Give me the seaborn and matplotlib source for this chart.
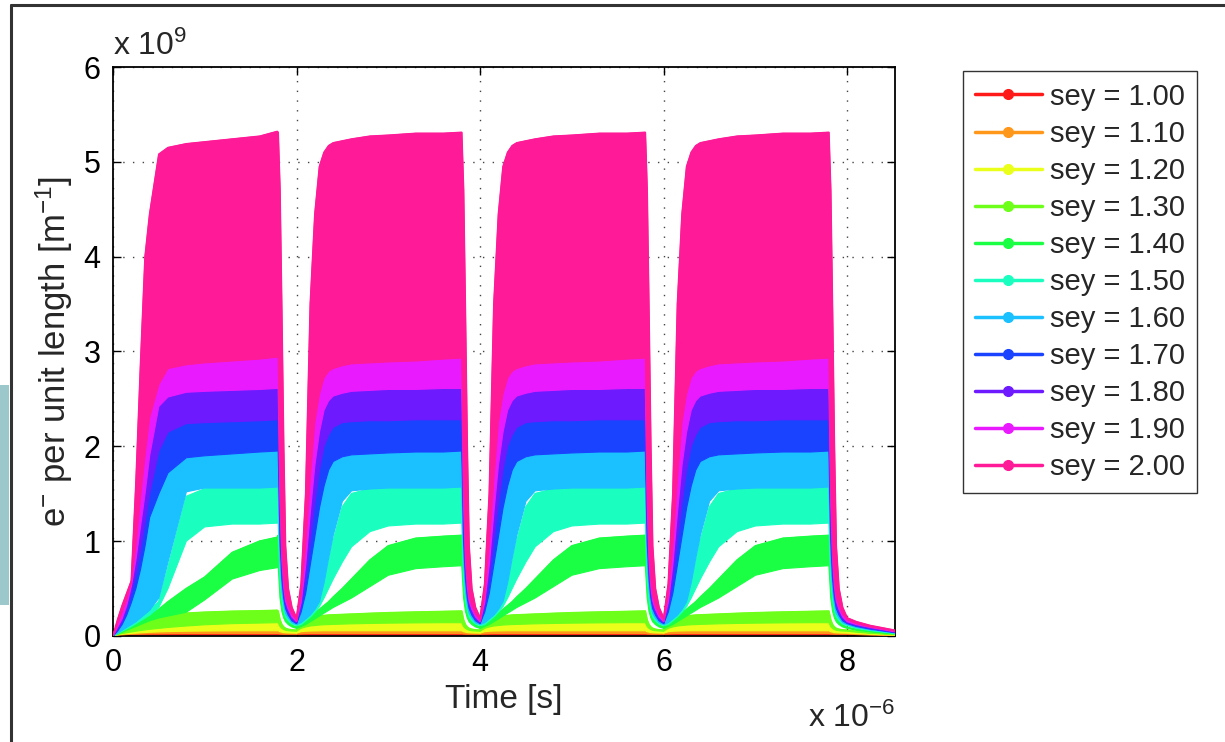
import matplotlib
matplotlib.use("Agg")
import matplotlib.pyplot as plt
import seaborn as sns
from matplotlib.lines import Line2D
from matplotlib.patches import Rectangle

# secondary emission yield of each run (legend order)
SEY = [1.00, 1.10, 1.20, 1.30, 1.40, 1.50, 1.60, 1.70, 1.80, 1.90, 2.00]

# bunch trains [x 1e-6 s]: start of each train, length of a train
TRAIN_START = [0.0, 2.0, 4.0, 6.0]
TRAIN_LEN = 1.8

# time inside a train, relative to its start [x 1e-6 s]
RISE_T = [0.0, 0.05, 0.10, 0.15, 0.20, 0.25, 0.30, 0.35, 0.40, 0.50, 0.60, 0.80, 1.00, 1.30, 1.60, 1.79]
# time after the end of a train [x 1e-6 s]; the gaps use the first GAP_N points
DECAY_T = [0.0, 0.02, 0.04, 0.06, 0.08, 0.11, 0.15, 0.20, 0.30, 0.45, 0.72]
GAP_N = 8

# envelopes of the bunch-by-bunch oscillation [x 1e9 m^-1], one row per sey
# first train (starts from an empty chamber)
UPPER_FIRST = [
    [0.0, 0.012, 0.018, 0.021, 0.023, 0.024, 0.025, 0.026, 0.027, 0.028, 0.028, 0.029, 0.030, 0.030, 0.030, 0.030],
    [0.0, 0.020, 0.030, 0.036, 0.040, 0.043, 0.046, 0.048, 0.050, 0.052, 0.053, 0.054, 0.055, 0.056, 0.056, 0.056],
    [0.0, 0.025, 0.040, 0.052, 0.062, 0.070, 0.078, 0.085, 0.092, 0.100, 0.108, 0.120, 0.128, 0.134, 0.138, 0.140],
    [0.0, 0.020, 0.040, 0.060, 0.080, 0.100, 0.120, 0.140, 0.160, 0.190, 0.210, 0.240, 0.250, 0.260, 0.265, 0.270],
    [0.0, 0.025, 0.050, 0.075, 0.100, 0.130, 0.160, 0.190, 0.220, 0.280, 0.360, 0.500, 0.620, 0.880, 1.000, 1.040],
    [0.0, 0.030, 0.060, 0.090, 0.120, 0.150, 0.190, 0.230, 0.270, 0.360, 0.720, 1.470, 1.550, 1.570, 1.580, 1.580],
    [0.0, 0.050, 0.120, 0.220, 0.350, 0.500, 0.700, 0.950, 1.250, 1.500, 1.720, 1.880, 1.900, 1.920, 1.940, 1.950],
    [0.0, 0.070, 0.150, 0.280, 0.450, 0.650, 0.900, 1.200, 1.500, 1.950, 2.150, 2.240, 2.250, 2.260, 2.270, 2.280],
    [0.0, 0.090, 0.180, 0.320, 0.520, 0.800, 1.150, 1.500, 1.900, 2.420, 2.520, 2.570, 2.580, 2.590, 2.600, 2.610],
    [0.0, 0.120, 0.250, 0.380, 0.560, 0.950, 1.450, 1.900, 2.300, 2.650, 2.820, 2.860, 2.880, 2.900, 2.920, 2.940],
    [0.0, 0.170, 0.320, 0.450, 0.580, 1.600, 2.850, 4.000, 4.450, 5.080, 5.150, 5.190, 5.210, 5.240, 5.270, 5.320],
]
LOWER_FIRST = [
    [0.0, 0.004, 0.006, 0.007, 0.008, 0.009, 0.010, 0.010, 0.010, 0.010, 0.010, 0.010, 0.010, 0.010, 0.010, 0.010],
    [0.0, 0.008, 0.012, 0.015, 0.017, 0.019, 0.020, 0.021, 0.022, 0.023, 0.024, 0.025, 0.025, 0.025, 0.025, 0.025],
    [0.0, 0.012, 0.018, 0.023, 0.027, 0.030, 0.033, 0.036, 0.039, 0.043, 0.046, 0.050, 0.052, 0.054, 0.055, 0.055],
    [0.0, 0.015, 0.025, 0.034, 0.042, 0.050, 0.057, 0.064, 0.070, 0.080, 0.090, 0.105, 0.118, 0.130, 0.136, 0.140],
    [0.0, 0.020, 0.040, 0.060, 0.080, 0.100, 0.120, 0.140, 0.160, 0.190, 0.210, 0.250, 0.380, 0.600, 0.690, 0.720],
    [0.0, 0.025, 0.050, 0.075, 0.100, 0.130, 0.160, 0.190, 0.220, 0.300, 0.500, 1.000, 1.150, 1.180, 1.180, 1.190],
    [0.0, 0.030, 0.060, 0.090, 0.120, 0.150, 0.190, 0.230, 0.270, 0.400, 0.780, 1.520, 1.560, 1.560, 1.560, 1.570],
    [0.0, 0.050, 0.120, 0.220, 0.350, 0.500, 0.700, 0.950, 1.250, 1.500, 1.720, 1.880, 1.900, 1.920, 1.940, 1.950],
    [0.0, 0.070, 0.150, 0.280, 0.450, 0.650, 0.900, 1.200, 1.500, 1.950, 2.150, 2.240, 2.250, 2.260, 2.270, 2.280],
    [0.0, 0.090, 0.180, 0.320, 0.520, 0.800, 1.150, 1.500, 1.900, 2.420, 2.520, 2.570, 2.580, 2.590, 2.600, 2.610],
    [0.0, 0.120, 0.250, 0.380, 0.560, 0.950, 1.450, 1.900, 2.300, 2.650, 2.820, 2.860, 2.880, 2.900, 2.920, 2.940],
]
# trains 2-4 (start from the residual cloud)
UPPER_LATER = [
    [0.020, 0.025, 0.027, 0.028, 0.029, 0.030, 0.030, 0.030, 0.030, 0.030, 0.030, 0.030, 0.030, 0.030, 0.030, 0.030],
    [0.030, 0.045, 0.050, 0.052, 0.053, 0.054, 0.055, 0.055, 0.055, 0.056, 0.056, 0.056, 0.056, 0.056, 0.056, 0.056],
    [0.050, 0.090, 0.105, 0.112, 0.118, 0.122, 0.125, 0.128, 0.130, 0.132, 0.134, 0.136, 0.138, 0.140, 0.140, 0.140],
    [0.060, 0.140, 0.180, 0.195, 0.205, 0.210, 0.215, 0.220, 0.222, 0.226, 0.230, 0.238, 0.245, 0.252, 0.258, 0.262],
    [0.090, 0.120, 0.160, 0.200, 0.240, 0.280, 0.320, 0.360, 0.410, 0.500, 0.600, 0.800, 0.950, 1.030, 1.050, 1.060],
    [0.120, 0.150, 0.190, 0.230, 0.280, 0.340, 0.520, 0.760, 1.000, 1.360, 1.500, 1.550, 1.570, 1.570, 1.580, 1.580],
    [0.130, 0.250, 0.450, 0.750, 1.050, 1.350, 1.580, 1.750, 1.840, 1.890, 1.910, 1.920, 1.930, 1.940, 1.940, 1.950],
    [0.140, 0.300, 0.600, 1.000, 1.400, 1.750, 2.000, 2.120, 2.200, 2.250, 2.260, 2.270, 2.270, 2.280, 2.280, 2.280],
    [0.150, 0.350, 0.750, 1.300, 1.800, 2.150, 2.380, 2.480, 2.530, 2.560, 2.580, 2.590, 2.600, 2.600, 2.610, 2.610],
    [0.160, 0.420, 0.950, 1.650, 2.250, 2.550, 2.720, 2.790, 2.820, 2.850, 2.870, 2.880, 2.890, 2.900, 2.920, 2.930],
    [0.190, 0.550, 1.500, 3.500, 4.450, 4.950, 5.100, 5.170, 5.200, 5.220, 5.240, 5.270, 5.280, 5.300, 5.300, 5.310],
]
LOWER_LATER = [
    [0.010, 0.010, 0.010, 0.010, 0.010, 0.010, 0.010, 0.010, 0.010, 0.010, 0.010, 0.010, 0.010, 0.010, 0.010, 0.010],
    [0.020, 0.022, 0.024, 0.025, 0.025, 0.025, 0.025, 0.025, 0.025, 0.025, 0.025, 0.025, 0.025, 0.025, 0.025, 0.025],
    [0.030, 0.045, 0.050, 0.052, 0.053, 0.054, 0.055, 0.055, 0.055, 0.055, 0.055, 0.055, 0.055, 0.055, 0.055, 0.055],
    [0.050, 0.080, 0.095, 0.105, 0.110, 0.115, 0.118, 0.120, 0.122, 0.125, 0.128, 0.132, 0.135, 0.138, 0.140, 0.140],
    [0.080, 0.100, 0.120, 0.150, 0.180, 0.210, 0.240, 0.270, 0.300, 0.350, 0.400, 0.520, 0.640, 0.710, 0.730, 0.740],
    [0.110, 0.120, 0.160, 0.200, 0.250, 0.310, 0.400, 0.500, 0.600, 0.780, 0.940, 1.100, 1.160, 1.180, 1.180, 1.190],
    [0.120, 0.140, 0.180, 0.220, 0.280, 0.360, 0.560, 0.820, 1.060, 1.420, 1.530, 1.550, 1.560, 1.560, 1.560, 1.570],
    [0.130, 0.250, 0.450, 0.750, 1.050, 1.350, 1.580, 1.750, 1.840, 1.890, 1.910, 1.920, 1.930, 1.940, 1.940, 1.950],
    [0.140, 0.300, 0.600, 1.000, 1.400, 1.750, 2.000, 2.120, 2.200, 2.250, 2.260, 2.270, 2.270, 2.280, 2.280, 2.280],
    [0.150, 0.350, 0.750, 1.300, 1.800, 2.150, 2.380, 2.480, 2.530, 2.560, 2.580, 2.590, 2.600, 2.600, 2.610, 2.610],
    [0.160, 0.420, 0.950, 1.650, 2.250, 2.550, 2.720, 2.790, 2.820, 2.850, 2.870, 2.880, 2.890, 2.900, 2.920, 2.930],
]
# decay of the cloud after a train
DECAY_UP = [
    [0.030, 0.027, 0.025, 0.023, 0.022, 0.021, 0.020, 0.020, 0.015, 0.010, 0.006],
    [0.056, 0.045, 0.040, 0.036, 0.034, 0.032, 0.031, 0.030, 0.025, 0.018, 0.010],
    [0.140, 0.100, 0.080, 0.068, 0.060, 0.055, 0.052, 0.050, 0.040, 0.028, 0.014],
    [0.262, 0.170, 0.120, 0.095, 0.080, 0.070, 0.064, 0.060, 0.048, 0.035, 0.018],
    [1.060, 0.600, 0.360, 0.260, 0.200, 0.150, 0.115, 0.090, 0.070, 0.050, 0.025],
    [1.580, 0.950, 0.580, 0.400, 0.300, 0.220, 0.160, 0.120, 0.090, 0.065, 0.030],
    [1.950, 1.200, 0.700, 0.470, 0.340, 0.250, 0.180, 0.130, 0.100, 0.070, 0.035],
    [2.280, 1.450, 0.850, 0.550, 0.400, 0.280, 0.200, 0.140, 0.110, 0.080, 0.040],
    [2.610, 1.700, 1.000, 0.650, 0.450, 0.320, 0.220, 0.150, 0.120, 0.090, 0.045],
    [2.930, 2.000, 1.200, 0.750, 0.500, 0.350, 0.240, 0.160, 0.130, 0.100, 0.050],
    [5.310, 4.700, 3.400, 2.000, 0.950, 0.500, 0.300, 0.190, 0.150, 0.110, 0.060],
]
DECAY_LO = [
    [0.010, 0.010, 0.010, 0.010, 0.010, 0.010, 0.010, 0.010, 0.008, 0.005, 0.003],
    [0.025, 0.022, 0.021, 0.020, 0.020, 0.020, 0.020, 0.020, 0.015, 0.010, 0.006],
    [0.055, 0.045, 0.040, 0.036, 0.034, 0.032, 0.031, 0.030, 0.025, 0.018, 0.010],
    [0.140, 0.100, 0.080, 0.068, 0.060, 0.055, 0.052, 0.050, 0.040, 0.028, 0.014],
    [0.740, 0.400, 0.260, 0.190, 0.150, 0.120, 0.095, 0.080, 0.060, 0.045, 0.022],
    [1.190, 0.600, 0.380, 0.270, 0.200, 0.160, 0.125, 0.110, 0.080, 0.058, 0.028],
    [1.570, 0.800, 0.480, 0.330, 0.240, 0.190, 0.140, 0.120, 0.090, 0.064, 0.032],
    [1.950, 1.000, 0.600, 0.400, 0.290, 0.220, 0.160, 0.130, 0.100, 0.072, 0.036],
    [2.280, 1.200, 0.700, 0.460, 0.330, 0.250, 0.180, 0.140, 0.110, 0.080, 0.040],
    [2.610, 1.400, 0.800, 0.520, 0.370, 0.280, 0.200, 0.150, 0.120, 0.090, 0.045],
    [2.930, 1.600, 0.900, 0.600, 0.420, 0.320, 0.230, 0.170, 0.130, 0.095, 0.050],
]

sns.set_style("ticks")
plt.rcParams["font.family"] = ["Liberation Sans", "DejaVu Sans"]
plt.rcParams["mathtext.default"] = "regular"

colors = sns.hls_palette(len(SEY), h=0, l=0.55, s=1)

fig = plt.figure(figsize=(12.25, 7.42), dpi=100)
ax = fig.add_axes([0.0922, 0.1429, 0.6384, 0.7668])

# one filled band per train and sey; higher sey drawn on top
for i, c in enumerate(colors):
    for k, t0 in enumerate(TRAIN_START):
        up = UPPER_FIRST[i] if k == 0 else UPPER_LATER[i]
        lo = LOWER_FIRST[i] if k == 0 else LOWER_LATER[i]
        n = len(DECAY_T) if k == len(TRAIN_START) - 1 else GAP_N
        tx = [t0 + t for t in RISE_T] + [t0 + TRAIN_LEN + t for t in DECAY_T[:n]]
        uy = up + DECAY_UP[i][:n]
        ly = lo + DECAY_LO[i][:n]
        ax.fill(tx + tx[::-1], uy + ly[::-1], color=c, lw=0.8, zorder=2 + i)
        sns.lineplot(x=tx, y=uy, sort=False, estimator=None, color=c,
                     lw=1.2, ax=ax, zorder=2 + i)

ax.set_xlim(0, 8.52)
ax.set_ylim(0, 6)
ax.set_xticks([0, 2, 4, 6, 8])
ax.set_yticks([0, 1, 2, 3, 4, 5, 6])
ax.tick_params(direction="in", top=True, right=True, length=6, width=1,
               labelsize=22, pad=9, colors="black")
ax.grid(True, ls=(0, (1, 6)), color="#444444", lw=1)
ax.set_axisbelow(True)
for s in ax.spines.values():
    s.set_color("black")
    s.set_linewidth(1.3)

ax.set_xlabel("Time [s]", fontsize=24, labelpad=4)
ax.set_ylabel(r"e$^{-}$ per unit length [m$^{-1}$]", fontsize=25, labelpad=6)
ax.text(0, 1.021, r"x 10$^{9}$", transform=ax.transAxes, ha="left",
        va="baseline", fontsize=23)
ax.text(1.0, -0.16, r"x 10$^{-6}$", transform=ax.transAxes, ha="right",
        va="baseline", fontsize=23)

handles = [Line2D([0], [0], color=c, lw=2.5, marker="o", ms=7) for c in colors]
labels = [f"sey = {s:.2f}" for s in SEY]
leg = fig.legend(handles, labels, loc="upper left",
                 bbox_to_anchor=(963 / 1225, 1 - 71 / 742), frameon=True,
                 fancybox=False, edgecolor="black", fontsize=21,
                 handlelength=2.3, handletextpad=0.3, labelspacing=0.31,
                 borderpad=0.4, borderaxespad=0)
leg.get_frame().set_linewidth(1.0)

# slide frame around the figure
fig.add_artist(Line2D([11 / 1225, 11 / 1225], [0, 1 - 5 / 742],
                      transform=fig.transFigure, color="#333333", lw=2.2))
fig.add_artist(Line2D([11 / 1225, 1], [1 - 5 / 742, 1 - 5 / 742],
                      transform=fig.transFigure, color="#333333", lw=2.2))
fig.add_artist(Rectangle((0, 137 / 742), 9 / 1225, 220 / 742,
                         transform=fig.transFigure, color="#9cc8cc", lw=0))

fig.savefig("out.png", dpi=100, facecolor="white")
